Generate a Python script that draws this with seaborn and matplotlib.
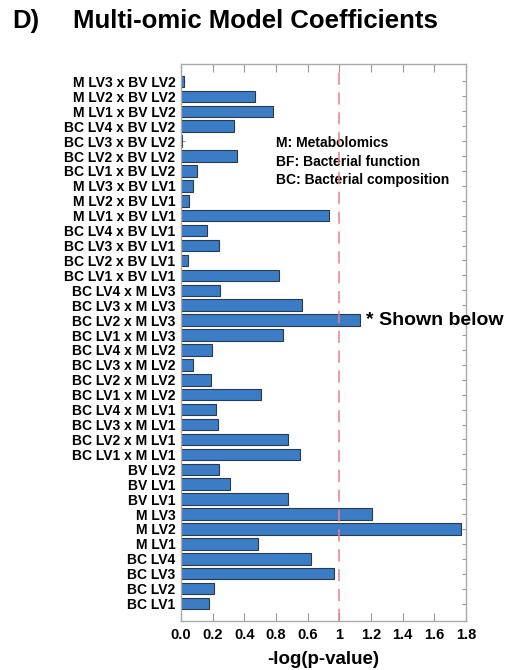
import pandas as pd
import matplotlib
matplotlib.use('Agg')
import matplotlib.pyplot as plt
import seaborn as sns

# Etiquetas de los términos del modelo (de arriba hacia abajo)
terminos = [
    'M LV3 x BV LV2', 'M LV2 x BV LV2', 'M LV1 x BV LV2', 'BC LV4 x BV LV2',
    'BC LV3 x BV LV2', 'BC LV2 x BV LV2', 'BC LV1 x BV LV2', 'M LV3 x BV LV1',
    'M LV2 x BV LV1', 'M LV1 x BV LV1', 'BC LV4 x BV LV1', 'BC LV3 x BV LV1',
    'BC LV2 x BV LV1', 'BC LV1 x BV LV1', 'BC LV4 x M LV3', 'BC LV3 x M LV3',
    'BC LV2 x M LV3', 'BC LV1 x M LV3', 'BC LV4 x M LV2', 'BC LV3 x M LV2',
    'BC LV2 x M LV2', 'BC LV1 x M LV2', 'BC LV4 x M LV1', 'BC LV3 x M LV1',
    'BC LV2 x M LV1', 'BC LV1 x M LV1', 'BV LV2', 'BV LV1', 'BV LV1',
    'M LV3', 'M LV2', 'M LV1', 'BC LV4', 'BC LV3', 'BC LV2', 'BC LV1',
]

# -log(p-value) de cada término
neg_log_p = [
    0.017, 0.467, 0.583, 0.335,
    0.004, 0.352, 0.099, 0.078,
    0.048, 0.937, 0.164, 0.238,
    0.046, 0.617, 0.246, 0.764,
    1.131, 0.644, 0.196, 0.074,
    0.187, 0.503, 0.221, 0.234,
    0.678, 0.750, 0.240, 0.307, 0.674,
    1.204, 1.769, 0.488, 0.819, 0.964, 0.206, 0.177,
]

# etiquetas del eje x tal como aparecen en la figura original
xticks = [0.0, 0.2, 0.4, 0.6, 0.8, 1.0, 1.2, 1.4, 1.6, 1.8]
xtick_labels = ['0.0', '0.2', '0.4', '0.8', '0.6', '1', '1.2', '1.4', '1.6', '1.8']

marcado = 'BC LV2 x M LV3'

sns.set_style('white')
plt.rcParams['font.family'] = ['Liberation Sans', 'DejaVu Sans']
plt.rcParams['text.color'] = 'black'
plt.rcParams['xtick.labelcolor'] = 'black'
plt.rcParams['ytick.labelcolor'] = 'black'
plt.rcParams['axes.labelcolor'] = 'black'

df = pd.DataFrame({'pos': [str(i) for i in range(len(terminos))],
                   'valor': neg_log_p})

fig = plt.figure(figsize=(5.06, 6.70), dpi=100)
ax = fig.add_axes([181 / 506, 1 - 621 / 670, 285 / 506, 557 / 670])

sns.barplot(data=df, x='valor', y='pos', orient='h', color='#3b7cc7',
            saturation=1, width=0.77, edgecolor='#2b3a4a', linewidth=0.8, ax=ax)

ax.axvline(1, color='#e8808a', linestyle=(0, (8, 5)), linewidth=1.1, zorder=5)

ax.set_xlim(0, 1.8)
ax.set_ylim(len(terminos) - 1 + 1.17, -1.17)
ax.set_xticks(xticks)
ax.set_xticklabels(xtick_labels, fontsize=10.5, fontweight='bold')
ax.set_yticks(range(len(terminos)))
ax.set_yticklabels(terminos, fontsize=10, fontweight='bold')
ax.set_xlabel('-log(p-value)', fontsize=13.5, fontweight='bold')
ax.xaxis.set_label_coords(0.5, -39 / 557)
ax.xaxis.label.set_va('center')
ax.set_ylabel('')

ax.tick_params(axis='x', direction='in', length=6, width=0.8, color='#999999',
               top=True, bottom=True, pad=5)
ax.tick_params(axis='y', direction='in', length=3, width=0.8, color='#999999',
               left=True, right=True, pad=4)
for s in ax.spines.values():
    s.set_color('#aaaaaa')
    s.set_linewidth(1.0)

# leyenda de abreviaturas
ax.text((276 - 181) / 285, 1 - (136 - 64) / 557,
        'M: Metabolomics\nBF: Bacterial function\nBC: Bacterial composition',
        transform=ax.transAxes, fontsize=10, fontweight='bold', ha='left', va='top',
        linespacing=1.42)

# anotación del término mostrado abajo
i = terminos.index(marcado)
ax.text(neg_log_p[i] + 0.04, i, '* Shown below', fontsize=14, fontweight='bold',
        ha='left', va='center', clip_on=False)

fig.text(12 / 506, 1 - 21 / 670, 'D)', fontsize=18.5, fontweight='bold', va='center')
fig.text(73 / 506, 1 - 21 / 670, 'Multi-omic Model Coefficients', fontsize=18.5,
         fontweight='bold', va='center')

fig.savefig('out.png', dpi=100)
